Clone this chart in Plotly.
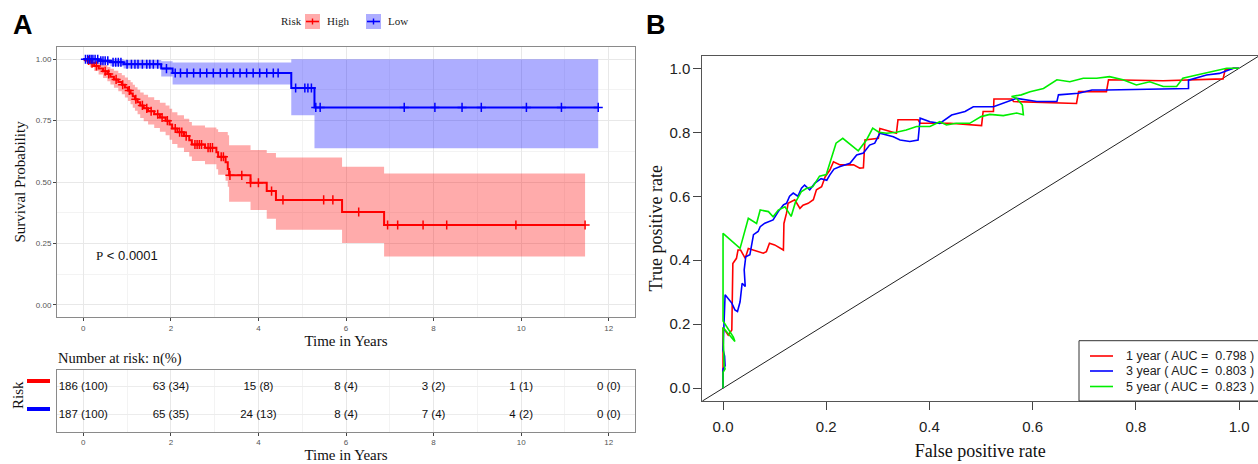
import numpy as np
import plotly.graph_objects as go

W, H = 1258, 464

# ---------------- Kaplan-Meier: high-risk group ----------------
high_t = [0.00, 0.08, 0.15, 0.25, 0.35, 0.45, 0.55, 0.62, 0.70, 0.80, 0.88, 0.95,
          1.02, 1.08, 1.13, 1.18, 1.24, 1.30, 1.38, 1.48, 1.62, 1.75, 1.88, 1.97,
          2.03, 2.15, 2.30, 2.42, 2.48, 2.78, 3.04, 3.08, 3.25, 3.30, 3.33, 3.82,
          4.19, 4.40, 5.91, 6.87]
high_s = [1.000, 0.995, 0.984, 0.973, 0.962, 0.951, 0.940, 0.929, 0.918, 0.907, 0.896, 0.885,
          0.873, 0.861, 0.849, 0.837, 0.825, 0.812, 0.800, 0.788, 0.776, 0.763, 0.750, 0.734,
          0.718, 0.703, 0.687, 0.670, 0.653, 0.640, 0.621, 0.603, 0.580, 0.553, 0.527, 0.497,
          0.463, 0.427, 0.378, 0.325]
high_upper = [1.000, 1.000, 0.998, 0.992, 0.985, 0.977, 0.969, 0.961, 0.953, 0.944, 0.935, 0.926,
              0.916, 0.906, 0.896, 0.886, 0.876, 0.865, 0.855, 0.845, 0.834, 0.823, 0.812, 0.798,
              0.784, 0.772, 0.758, 0.744, 0.730, 0.722, 0.715, 0.704, 0.704, 0.690, 0.650, 0.630,
              0.618, 0.600, 0.562, 0.535]
high_lower = [1.000, 0.985, 0.968, 0.952, 0.938, 0.924, 0.910, 0.897, 0.884, 0.870, 0.857, 0.844,
              0.830, 0.817, 0.803, 0.790, 0.776, 0.761, 0.748, 0.734, 0.720, 0.705, 0.690, 0.672,
              0.655, 0.640, 0.622, 0.604, 0.586, 0.572, 0.552, 0.530, 0.505, 0.481, 0.420, 0.386,
              0.350, 0.305, 0.251, 0.196]
high_end = 11.46
high_censored = [0.12, 0.20, 0.30, 0.50, 0.58, 0.75, 0.90, 1.05, 1.20, 1.35, 1.45, 1.55, 1.70,
                 1.80, 1.92, 2.10, 2.20, 2.25, 2.35, 2.55, 2.60, 2.65, 2.70, 2.85, 2.90, 2.95,
                 3.15, 3.20, 3.35, 3.62, 3.82, 4.00, 4.30, 4.56, 5.49, 5.70, 6.29, 6.95, 7.18,
                 7.76, 8.30, 9.88, 11.46]

# ---------------- Kaplan-Meier: low-risk group ----------------
low_t = [0.00, 0.35, 0.62, 0.92, 1.78, 2.04, 4.75, 5.28]
low_s = [1.000, 0.994, 0.988, 0.980, 0.962, 0.944, 0.883, 0.804]
low_upper = [1.000, 1.000, 1.000, 0.997, 0.992, 0.987, 1.000, 1.000]
low_lower = [1.000, 0.983, 0.972, 0.962, 0.930, 0.897, 0.772, 0.637]
low_end = 11.76
low_censored = [0.05, 0.10, 0.14, 0.18, 0.22, 0.27, 0.33, 0.40, 0.45, 0.50, 0.56, 0.68, 0.74,
                0.80, 0.86, 1.00, 1.10, 1.18, 1.25, 1.35, 1.45, 1.52, 1.60, 1.70, 1.90, 2.10,
                2.22, 2.37, 2.52, 2.67, 2.82, 2.97, 3.13, 3.28, 3.43, 3.58, 3.73, 3.88, 4.03,
                4.19, 4.34, 4.45, 4.85, 5.06, 5.13, 5.21, 5.31, 5.41, 7.33, 8.03, 8.65, 9.09,
                10.12, 10.92, 11.76]

# ---------------- Number at risk ----------------
risk_times = [0, 2, 4, 6, 8, 10, 12]
high_n = [186, 63, 15, 8, 3, 1, 0]
high_pct = [100, 34, 8, 4, 2, 1, 0]
low_n = [187, 65, 24, 8, 7, 4, 0]
low_pct = [100, 35, 13, 4, 4, 2, 0]

# ---------------- Time-dependent ROC ----------------
roc1_fpr = [0, 0, 0.004, 0.010, 0.017, 0.019, 0.026, 0.029, 0.034, 0.043, 0.049, 0.058, 0.068,
            0.078, 0.084, 0.090, 0.100, 0.110, 0.117, 0.118, 0.123, 0.126, 0.139, 0.149, 0.155,
            0.165, 0.175, 0.181, 0.191, 0.198, 0.207, 0.214, 0.227, 0.253, 0.265, 0.272, 0.275,
            0.301, 0.304, 0.336, 0.339, 0.378, 0.382, 0.440, 0.501, 0.504, 0.524, 0.525, 0.560,
            0.563, 0.685, 0.689, 0.743, 0.747, 0.853, 0.969, 0.973, 0.990, 1.000]
roc1_tpr = [0, 0.190, 0.180, 0.166, 0.182, 0.390, 0.406, 0.432, 0.432, 0.406, 0.437, 0.432, 0.427,
            0.422, 0.427, 0.453, 0.448, 0.437, 0.432, 0.515, 0.547, 0.578, 0.589, 0.562, 0.572,
            0.578, 0.589, 0.620, 0.630, 0.661, 0.682, 0.708, 0.698, 0.698, 0.688, 0.689, 0.776,
            0.781, 0.812, 0.797, 0.839, 0.839, 0.828, 0.828, 0.821, 0.865, 0.865, 0.904, 0.904,
            0.896, 0.890, 0.927, 0.927, 0.964, 0.961, 0.967, 0.995, 1.000, 1.000]

roc3_fpr = [0, 0, 0.004, 0.003, 0, 0.002, 0.004, 0.017, 0.023, 0.028, 0.033, 0.037, 0.043,
            0.041, 0.044, 0.052, 0.055, 0.059, 0.068, 0.072, 0.081, 0.097, 0.107, 0.117, 0.123,
            0.129, 0.136, 0.145, 0.152, 0.158, 0.168, 0.178, 0.190, 0.201, 0.207, 0.215, 0.227,
            0.246, 0.259, 0.272, 0.284, 0.294, 0.304, 0.330, 0.343, 0.362, 0.378, 0.382, 0.401,
            0.420, 0.443, 0.469, 0.485, 0.524, 0.569, 0.608, 0.647, 0.650, 0.689, 0.715, 0.743,
            0.853, 0.902, 0.902, 0.937, 0.962, 0.989, 1.000]
roc3_tpr = [0, 0.060, 0.070, 0.100, 0.120, 0.200, 0.292, 0.266, 0.245, 0.240, 0.270, 0.328, 0.318,
            0.370, 0.411, 0.417, 0.443, 0.480, 0.490, 0.505, 0.516, 0.526, 0.552, 0.573, 0.578,
            0.600, 0.610, 0.600, 0.625, 0.635, 0.620, 0.641, 0.655, 0.650, 0.667, 0.685, 0.693,
            0.703, 0.729, 0.735, 0.760, 0.766, 0.797, 0.786, 0.776, 0.771, 0.776, 0.844, 0.833,
            0.828, 0.854, 0.865, 0.880, 0.880, 0.906, 0.896, 0.896, 0.917, 0.922, 0.932, 0.932,
            0.937, 0.937, 0.963, 0.979, 0.984, 1.000, 1.000]

roc5_fpr = [0, 0, 0.004, 0.002, 0, 0.023, 0.020, 0, 0, 0.033, 0.049, 0.065, 0.072, 0.088, 0.097,
            0.107, 0.120, 0.132, 0.140, 0.152, 0.162, 0.174, 0.187, 0.200, 0.209, 0.219, 0.232,
            0.262, 0.278, 0.290, 0.302, 0.317, 0.336, 0.355, 0.375, 0.401, 0.420, 0.433, 0.452,
            0.478, 0.500, 0.517, 0.543, 0.569, 0.582, 0.580, 0.569, 0.559, 0.578, 0.595, 0.621,
            0.647, 0.672, 0.698, 0.724, 0.749, 0.775, 0.801, 0.827, 0.853, 0.879, 0.891, 0.918,
            0.950, 0.976, 1.000]
roc5_tpr = [0, 0.050, 0.060, 0.070, 0.190, 0.146, 0.160, 0.210, 0.484, 0.437, 0.531, 0.515, 0.557,
            0.552, 0.536, 0.557, 0.567, 0.537, 0.580, 0.615, 0.625, 0.630, 0.663, 0.668, 0.714,
            0.766, 0.781, 0.742, 0.776, 0.813, 0.800, 0.797, 0.800, 0.807, 0.818, 0.818, 0.833,
            0.823, 0.828, 0.828, 0.849, 0.856, 0.852, 0.860, 0.855, 0.885, 0.906, 0.912, 0.917,
            0.927, 0.937, 0.964, 0.958, 0.969, 0.969, 0.974, 0.964, 0.948, 0.958, 0.943, 0.943,
            0.969, 0.979, 0.990, 1.000, 1.000]

roc_years = [1, 3, 5]
roc_auc = [0.798, 0.803, 0.823]
chance_line = [-1.0, 2.0]

RED, BLUE, GREEN = "#FF0000", "#0000FF", "#00EE00"
RED_FILL, BLUE_FILL = "rgba(255,0,0,0.33)", "rgba(0,0,255,0.32)"
SERIF, SANS = "Liberation Serif", "Liberation Sans"
NBSP = "\u00a0"


def fx(px):
    return px / W


def fy(py):
    return 1 - py / H


def step_value(times, values, at):
    idx = np.searchsorted(np.asarray(times), np.asarray(at), side="right") - 1
    return np.asarray(values)[idx]


fig = go.Figure()

# survival curves with confidence bands and censoring marks
for t, up, lo, end, fill in [
    (high_t, high_upper, high_lower, high_end, RED_FILL),
    (low_t, low_upper, low_lower, low_end, BLUE_FILL),
]:
    tx = list(t) + [end]
    fig.add_trace(go.Scatter(x=tx, y=list(up) + [up[-1]], mode="lines",
                             line=dict(width=0, shape="hv"), hoverinfo="skip",
                             xaxis="x", yaxis="y"))
    fig.add_trace(go.Scatter(x=tx, y=list(lo) + [lo[-1]], mode="lines",
                             line=dict(width=0, shape="hv"), fill="tonexty",
                             fillcolor=fill, hoverinfo="skip", xaxis="x", yaxis="y"))
for t, s, end, cens, col in [
    (high_t, high_s, high_end, high_censored, RED),
    (low_t, low_s, low_end, low_censored, BLUE),
]:
    fig.add_trace(go.Scatter(x=list(t) + [end], y=list(s) + [s[-1]], mode="lines",
                             line=dict(color=col, width=2, shape="hv"),
                             xaxis="x", yaxis="y"))
    fig.add_trace(go.Scatter(x=cens, y=step_value(t, s, cens), mode="markers",
                             marker=dict(symbol="cross-thin", size=6.5,
                                         line=dict(color=col, width=1.5)),
                             xaxis="x", yaxis="y"))

# number-at-risk table (High on the upper row)
for n, pct, row in [(high_n, high_pct, 2), (low_n, low_pct, 1)]:
    fig.add_trace(go.Scatter(
        x=risk_times, y=[row] * len(risk_times), mode="text",
        text=[f"{a} ({b})" for a, b in zip(n, pct)],
        textfont=dict(family=SANS, size=11.5, color="#111"),
        textposition="middle center", cliponaxis=False,
        xaxis="x3", yaxis="y3"))

# ROC curves
fig.add_trace(go.Scatter(x=chance_line, y=chance_line, mode="lines",
                         line=dict(color="#222", width=1), xaxis="x2", yaxis="y2"))
for fpr, tpr, col in [(roc1_fpr, roc1_tpr, RED), (roc3_fpr, roc3_tpr, BLUE),
                      (roc5_fpr, roc5_tpr, GREEN)]:
    fig.add_trace(go.Scatter(x=fpr, y=tpr, mode="lines",
                             line=dict(color=col, width=1.6), xaxis="x2", yaxis="y2"))

km_ticks = dict(ticks="outside", ticklen=3, tickwidth=1, tickcolor="#444",
                tickfont=dict(family=SANS, size=8, color="#555"),
                showline=True, linecolor="#8a8a8a", linewidth=1, mirror=True,
                zeroline=False, showgrid=True, gridcolor="#e8e8e8", gridwidth=1)
km_x = dict(km_ticks, range=[-0.6, 12.6], tickvals=list(range(0, 13, 2)),
            minor=dict(tickvals=list(range(1, 13, 2)), showgrid=True,
                       gridcolor="#f3f3f3", gridwidth=0.7, ticks=""))

roc_ticks = dict(ticks="outside", ticklen=8, tickwidth=1, tickcolor="#444",
                 tickfont=dict(family=SANS, size=15, color="#222"),
                 showline=True, linecolor="#555", linewidth=1.2,
                 zeroline=False, showgrid=False,
                 tickvals=[0, 0.2, 0.4, 0.6, 0.8, 1.0],
                 ticktext=["0.0", "0.2", "0.4", "0.6", "0.8", "1.0"])

shapes = []
annotations = []

# KM legend
annotations.append(dict(text="Risk", x=fx(279), y=fy(21.5), xref="paper", yref="paper",
                        xanchor="left", yanchor="middle", showarrow=False,
                        font=dict(family=SERIF, size=11, color="#222")))
for x0, col, fill, label in [(305, RED, RED_FILL, "High"), (366, BLUE, BLUE_FILL, "Low")]:
    shapes.append(dict(type="rect", xref="paper", yref="paper", x0=fx(x0), x1=fx(x0 + 15),
                       y0=fy(29), y1=fy(14), fillcolor=fill, line=dict(width=0)))
    shapes.append(dict(type="line", xref="paper", yref="paper", x0=fx(x0 + 1), x1=fx(x0 + 14),
                       y0=fy(21.5), y1=fy(21.5), line=dict(color=col, width=1.6)))
    shapes.append(dict(type="line", xref="paper", yref="paper", x0=fx(x0 + 7.5), x1=fx(x0 + 7.5),
                       y0=fy(18.5), y1=fy(24.5), line=dict(color=col, width=1.4)))
    annotations.append(dict(text=label, x=fx(x0 + 20), y=fy(21.5), xref="paper", yref="paper",
                            xanchor="left", yanchor="middle", showarrow=False,
                            font=dict(family=SERIF, size=11, color="#222")))

# risk table labels
annotations.append(dict(text="Number at risk: n(%)", x=fx(56), y=fy(358), xref="paper",
                        yref="paper", xanchor="left", yanchor="middle", showarrow=False,
                        font=dict(family=SERIF, size=14.5, color="#111")))
annotations.append(dict(text="Risk", x=fx(18), y=fy(395), xref="paper", yref="paper",
                        xanchor="center", yanchor="middle", textangle=-90, showarrow=False,
                        font=dict(family=SERIF, size=15, color="#111")))
for yc, col in [(381, RED), (409, BLUE)]:
    shapes.append(dict(type="rect", xref="paper", yref="paper", x0=fx(27), x1=fx(50),
                       y0=fy(yc + 2), y1=fy(yc - 2), fillcolor=col, line=dict(width=0)))

# p-value
annotations.append(dict(text=f"<span style='font-family:{SERIF}'>P</span> &lt; 0.0001",
                        x=0.24, y=0.2, xref="x", yref="y", xanchor="left", yanchor="middle",
                        showarrow=False, font=dict(family=SANS, size=13, color="#111")))

# panel letters
for letter, x0 in [("A", 11), ("B", 644)]:
    annotations.append(dict(text=f"<b>{letter}</b>", x=fx(x0), y=fy(25), xref="paper",
                            yref="paper", xanchor="left", yanchor="middle", showarrow=False,
                            font=dict(family=SANS, size=27, color="#000")))

# ROC legend
shapes.append(dict(type="rect", xref="paper", yref="paper", x0=fx(1079), x1=fx(1266),
                   y0=fy(401), y1=fy(340.7), line=dict(color="#333", width=1),
                   fillcolor="rgba(0,0,0,0)"))
for yr, auc, col, yc in zip(roc_years, roc_auc, [RED, BLUE, GREEN], [356, 371, 386.5]):
    shapes.append(dict(type="line", xref="paper", yref="paper", x0=fx(1090), x1=fx(1113),
                       y0=fy(yc), y1=fy(yc), line=dict(color=col, width=1.6)))
    label = f"{yr} year ( AUC ={NBSP}{NBSP}{auc:.3f} )"
    annotations.append(dict(text=label, x=fx(1124), y=fy(yc),
                            xref="paper", yref="paper", xanchor="left", yanchor="middle",
                            showarrow=False, font=dict(family=SANS, size=12.5, color="#222")))

fig.update_layout(
    width=W, height=H, margin=dict(l=0, r=0, t=0, b=0),
    paper_bgcolor="white", plot_bgcolor="white", showlegend=False,
    xaxis=dict(km_x, domain=[fx(57), fx(635)], anchor="y",
               title=dict(text="Time in Years", standoff=0,
                          font=dict(family=SERIF, size=15, color="#111"))),
    yaxis=dict(km_ticks, domain=[fy(317), fy(47)], anchor="x", range=[-0.05, 1.05],
               tickvals=[0, 0.25, 0.5, 0.75, 1.0],
               ticktext=["0.00", "0.25", "0.50", "0.75", "1.00"],
               minor=dict(tickvals=[0.125, 0.375, 0.625, 0.875], showgrid=True,
                          gridcolor="#f3f3f3", gridwidth=0.7, ticks=""),
               title=dict(text="Survival Probability", standoff=6,
                          font=dict(family=SERIF, size=15, color="#111"))),
    xaxis3=dict(km_x, domain=[fx(57), fx(635)], anchor="y3",
                title=dict(text="Time in Years", standoff=0,
                           font=dict(family=SERIF, size=15, color="#111"))),
    yaxis3=dict(domain=[fy(431.7), fy(370)], anchor="x3", range=[0.4, 2.6],
                tickvals=[1, 2], showticklabels=False, ticks="",
                showline=True, linecolor="#8a8a8a", linewidth=1, mirror=True,
                zeroline=False, showgrid=True, gridcolor="#ececec"),
    xaxis2=dict(roc_ticks, domain=[fx(702.4), 1.0], anchor="y2", range=[-0.04, 1.0367],
                mirror=True, ticklabelstandoff=4,
                title=dict(text="False positive rate", standoff=10,
                           font=dict(family=SERIF, size=18, color="#111"))),
    yaxis2=dict(roc_ticks, domain=[fy(401), fy(55.5)], anchor="x2", range=[-0.04, 1.04],
                title=dict(text="True positive rate", standoff=2,
                           font=dict(family=SERIF, size=18, color="#111"))),
    shapes=shapes, annotations=annotations,
)

fig.write_html("out.html")
